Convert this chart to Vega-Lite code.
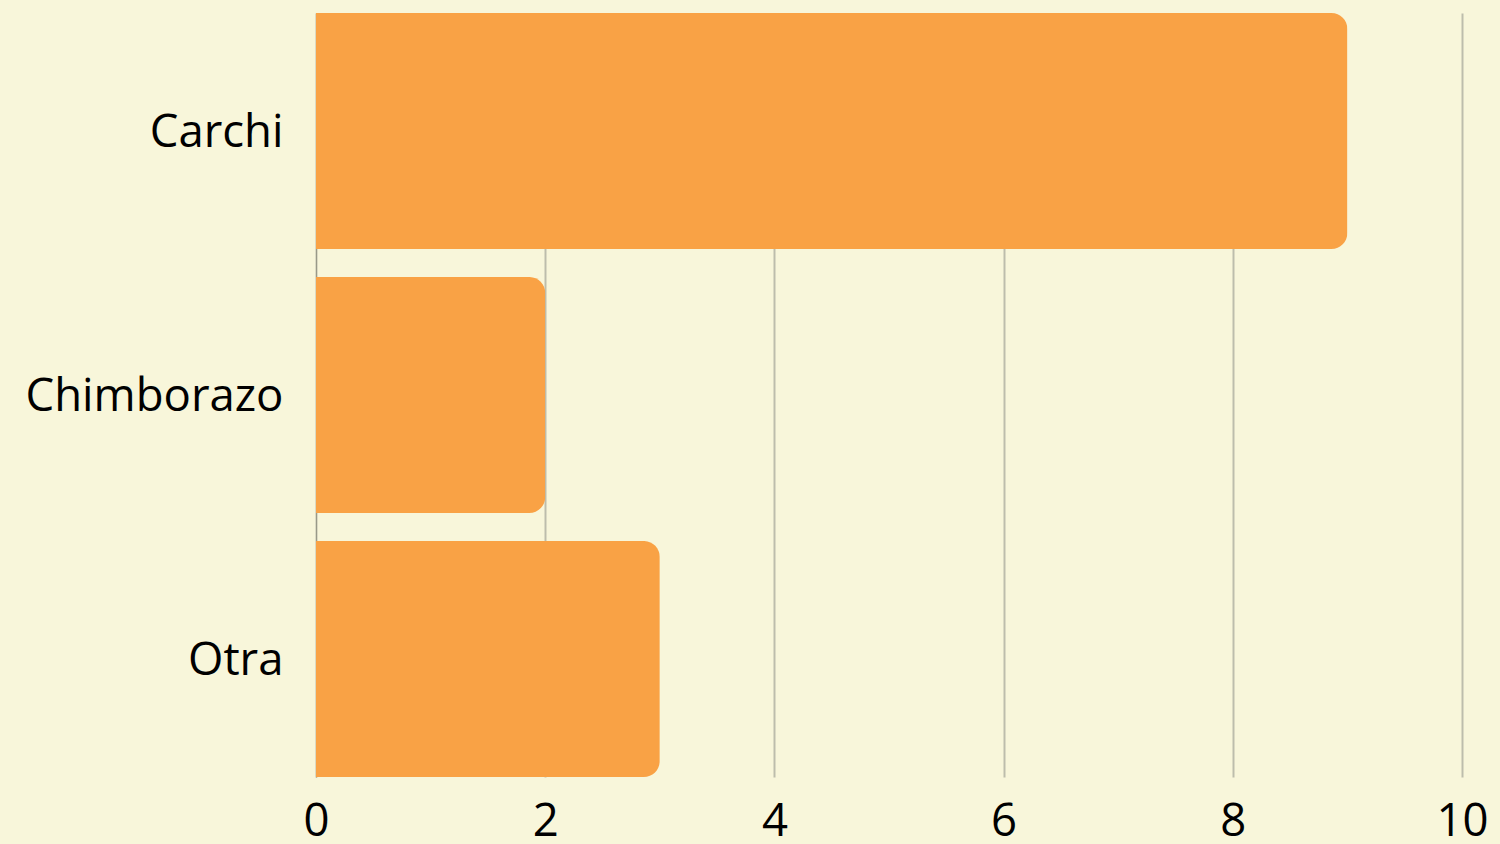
{
  "$schema": "https://vega.github.io/schema/vega-lite/v6.json",
  "width": 1146,
  "height": 764,
  "autosize": {"type": "none"},
  "padding": {"left": 316, "top": 13, "right": 38, "bottom": 67},
  "background": "#f8f6da",
  "config": {
    "view": {"stroke": null},
    "font": "Open Sans"
  },
  "data": {
    "values": [
      {"provincia": "Carchi", "valor": 9},
      {"provincia": "Chimborazo", "valor": 2},
      {"provincia": "Otra", "valor": 3}
    ]
  },
  "mark": {"type": "bar", "color": "#f9a245", "cornerRadiusEnd": 16},
  "encoding": {
    "y": {
      "field": "provincia",
      "type": "nominal",
      "sort": null,
      "scale": {"paddingInner": 0.106, "paddingOuter": 0},
      "axis": {
        "title": null,
        "ticks": false,
        "domain": true,
        "domainColor": "#999988",
        "labelFont": "Open Sans",
        "labelFontSize": 45.5,
        "labelColor": "#000000",
        "labelPadding": 33,
        "labelLimit": 0,
        "labelOffset": 2,
        "grid": false
      }
    },
    "x": {
      "field": "valor",
      "type": "quantitative",
      "scale": {"domain": [0, 10]},
      "axis": {
        "title": null,
        "values": [0, 2, 4, 6, 8, 10],
        "ticks": false,
        "domain": false,
        "grid": true,
        "gridColor": "#bdbdac",
        "gridWidth": 2,
        "labelFont": "Open Sans",
        "labelFontSize": 45.5,
        "labelColor": "#000000",
        "labelPadding": 22,
        "labelFlush": false
      }
    }
  }
}
